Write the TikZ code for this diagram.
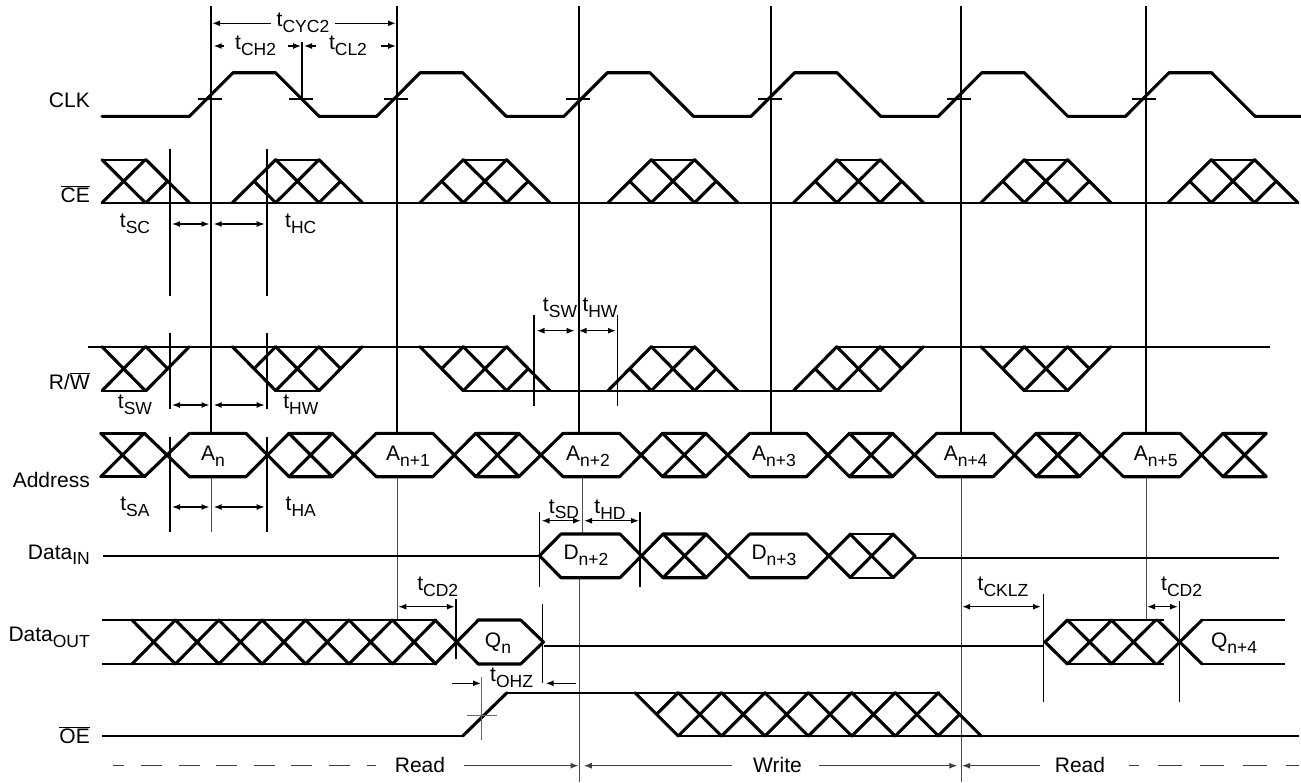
\documentclass[tikz,border=0pt]{standalone}
\usepackage{fontspec}
\setmainfont{Liberation Sans}
\usetikzlibrary{calc,arrows.meta}

\newcommand{\subt}[2]{#1\raisebox{-0.28em}{\fontsize{17.5}{17}\selectfont #2}}
\newcommand{\ovl}[1]{$\overline{\hbox{#1}}$}
\newcommand{\xcell}[3]{\draw[sig] (#1,#2) -- (#1+43.3,#3) (#1,#3) -- (#1+43.3,#2);}
\newcommand{\lramp}[3]{\draw[sig] (#1-43.3,#2) -- (#1,#3) (#1-21.65,{(#2+#3)/2}) -- (#1,#2);}
\newcommand{\rramp}[3]{\draw[sig] (#1,#2) -- (#1+43.3,#3) (#1,#3) -- (#1+21.65,{(#2+#3)/2});}

\tikzset{
    sig/.style={line width=3.1pt,line cap=round,line join=round},
    rail/.style={line width=2.1pt},
    guide/.style={line width=1.8pt},
    fine/.style={line width=1pt,black!70},
    faint/.style={line width=1pt,black!60},
    dim/.style={line width=1.4pt,{Latex[length=8pt,width=6pt]}-{Latex[length=8pt,width=6pt]}},
    dimr/.style={line width=1.4pt,-{Latex[length=8pt,width=6pt]}},
    diml/.style={line width=1.4pt,{Latex[length=8pt,width=6pt]}-},
    phase/.style={line width=1.2pt,black!75},
    lbl/.style={inner sep=0pt,font=\fontsize{21}{24}\selectfont},
    sigl/.style={lbl,anchor=base east}
}

\begin{document}
\begin{tikzpicture}[x=1pt,y=-1pt]
    \useasboundingbox (0,0) rectangle (1301,782);

    \foreach \x in {211,397,579,771,961,1146} {\draw[guide] (\x,6) -- (\x,433);};
    \draw[fine] (211.5,477) -- (211.5,532)
                (397.5,477) -- (397.5,620)
                (582,477) -- (582,534)
                (579,578) -- (579,782)
                (961,477) -- (961,782)
                (1146,477) -- (1146,620);

    \draw[guide] (170,149) -- (170,296) (267,149) -- (267,296)
                 (170,333) -- (170,409) (267,333) -- (267,409)
                 (170,437) -- (170,532) (267,437) -- (267,532)
                 (534,315) -- (534,406) (617.5,315) -- (617.5,406)
                 (539.5,512) -- (539.5,587) (640,512) -- (640,587)
                 (455.6,599) -- (455.6,659) (302,42) -- (302,99);
    \draw[line width=1.2pt] (542.7,604) -- (542.7,683)
                 (1043.7,594) -- (1043.7,702)
                 (1179.5,601) -- (1179.5,702);

    % CLK
    \draw[sig] (102,116.3) -- (189.5,116.3)
        \foreach \k in {0,...,5} {
            -- (233+187.2*\k,72.7) -- (275.5+187.2*\k,72.7) -- (319+187.2*\k,116.3)
            -- (376.7+187.2*\k,116.3)
        };
    \foreach \x in {198,289,384,566,758,947,1132} {\draw[guide] (\x,98.7) -- (\x+24,98.7);};

    % CE
    \draw[rail] (102,202.7) -- (1298,202.7);
    \xcell{102}{159.7}{202.7}
    \rramp{146}{159.7}{202.7}
    \draw[rail] (102,159.7) -- (146,159.7);
    \foreach \x in {232.4,420,608,793.5,981,1168} {
        \lramp{\x+43.3}{202.7}{159.7}
        \xcell{\x+43.3}{159.7}{202.7}
        \rramp{\x+86.6}{159.7}{202.7}
        \draw[rail] (\x+43.3,159.7) -- (\x+86.6,159.7);
    };

    % R/W
    \draw[rail] (88,346.7) -- (506.5,346.7) (651,346.7) -- (694.6,346.7) (837,346.7) -- (1270,346.7)
                (102,390.7) -- (146,390.7) (275.5,390.7) -- (319,390.7)
                (1024.6,390.7) -- (1068,390.7);
    \draw[line width=2.4pt] (463,390.7) -- (880.5,390.7);
    \xcell{102}{346.7}{390.7}
    \rramp{146}{390.7}{346.7}
    \foreach \x/\la/\lb/\ra/\rb in {232.4/346.7/390.7/390.7/346.7,
                                    420/346.7/390.7/346.7/390.7,
                                    608/390.7/346.7/346.7/390.7,
                                    793.5/390.7/346.7/390.7/346.7,
                                    981/346.7/390.7/390.7/346.7} {
        \lramp{\x+43.3}{\la}{\lb}
        \xcell{\x+43.3}{346.7}{390.7}
        \rramp{\x+86.6}{\ra}{\rb}
    };

    % Address
    \draw[sig] (100.8,433.3) -- (144.4,433.3) (100.8,476.7) -- (144.4,476.7);
    \xcell{100.8}{433.3}{476.7}
    \draw[sig] (144.4,433.3) -- (189.5,476.7) (144.4,476.7) -- (189.5,433.3);
    \foreach \k in {0,...,5} {
        \draw[sig] (168+186.8*\k+21.5,433.3) -- (168+186.8*\k+78,433.3)
                   (168+186.8*\k+21.5,476.7) -- (168+186.8*\k+78,476.7)
                   (168+186.8*\k+78,433.3) -- (168+186.8*\k+121,476.7)
                   (168+186.8*\k+78,476.7) -- (168+186.8*\k+121,433.3)
                   (168+186.8*\k+121,433.3) -- (168+186.8*\k+164,433.3)
                   (168+186.8*\k+121,476.7) -- (168+186.8*\k+164,476.7);
        \xcell{168+186.8*\k+121}{433.3}{476.7}
    };
    \foreach \k in {0,...,4} {
        \draw[sig] (168+186.8*\k+164,433.3) -- (168+186.8*\k+208.3,476.7)
                   (168+186.8*\k+164,476.7) -- (168+186.8*\k+208.3,433.3);
    };

    % Data in
    \draw[rail,line width=2.2pt] (103,555.7) -- (539.5,555.7) (915,557.7) -- (1279,557.7);
    \draw[sig] (561,534) -- (539.5,555.7) -- (561,577.7)
               (561,534) -- (620,534) (561,577.7) -- (620,577.7)
               (620,534) -- (663,577.7) (620,577.7) -- (663,534)
               (663,534) -- (706,534) (663,577.7) -- (706,577.7)
               (706,534) -- (749.7,577.7) (706,577.7) -- (749.7,534)
               (749.7,534) -- (807,534) (749.7,577.7) -- (807,577.7)
               (807,534) -- (850.6,577.7) (807,577.7) -- (850.6,534)
               (893,534) -- (915,556) -- (893,577.7);
    \xcell{663}{534}{577.7}
    \xcell{850}{534}{577.7}
    \draw[rail] (850,534) -- (893,534) (850,577.7) -- (893,577.7);

    % Data out
    \draw[rail,line width=2.4pt] (102,620) -- (434.8,620) (102,664) -- (434.8,664);
    \foreach \x in {132,175.4,218.8,262.2,305.6,349,392.4,435} {
        \draw[sig] (\x,620) -- (\x+43.4,664) (\x,664) -- (\x+43.4,620);
    };
    \draw[sig] (478,620) -- (520.7,620) (478,664) -- (520.7,664)
               (520.7,620) -- (543.5,642) -- (520.7,664);
    \draw[rail,line width=2.2pt] (543.5,646) -- (1043.7,646);
    \draw[sig] (1045,642) -- (1067.4,620) (1045,642) -- (1067.4,664);
    \draw[rail,line width=2.4pt] (1067.4,620) -- (1164,620) (1067.4,664) -- (1164,664)
               (1202.3,620) -- (1285.4,620) (1202.3,664) -- (1285.4,664);
    \foreach \x in {1067.4,1111.3,1157.5} {
        \draw[sig] (\x,620) -- (\x+44.5,664) (\x,664) -- (\x+44.5,620);
    };

    % OE
    \draw[rail,line width=2.4pt] (102,736) -- (462.7,736) (507,692.7) -- (937.8,692.7)
                                 (678.2,736) -- (1299,736);
    \draw[sig] (462.7,736) -- (507,692.7);
    \lramp{678.2}{692.7}{736}
    \foreach \x in {678.2,721.6,765,808.4,851.8,895.2} {\xcell{\x}{692.7}{736}};
    \rramp{938}{692.7}{736}
    \draw[faint] (481.3,677) -- (481.3,740) (466.8,715) -- (496.7,715);

    % dimensions
    \draw[diml] (212,23.3) -- (271,23.3);
    \draw[dimr] (335,23.3) -- (396,23.3);
    \draw[diml] (213.7,46) -- (224,46);
    \draw[dimr] (288,46) -- (301,46);
    \draw[diml] (304,46) -- (316,46);
    \draw[dimr] (380.5,46) -- (396,46);
    \draw[dim] (172,224) -- (209.5,224);
    \draw[dim] (213.7,224) -- (264.7,224);
    \draw[dim] (172,405) -- (209.5,405);
    \draw[dim] (213.7,405) -- (264.7,405);
    \draw[dim] (172,507) -- (209.5,507);
    \draw[dim] (213.7,507) -- (264.7,507);
    \draw[dim] (536.5,330.7) -- (574.7,330.7);
    \draw[dim] (578.5,330.7) -- (616,330.7);
    \draw[dim] (541.5,520.7) -- (581,520.7);
    \draw[dim] (584,520.7) -- (639,520.7);
    \draw[dim] (398.3,606.7) -- (454.8,606.7);
    \draw[dim] (962,606.7) -- (1041,606.7);
    \draw[dim] (1147,606.7) -- (1178,606.7);
    \draw[dimr] (452,683.3) -- (481,683.3);
    \draw[diml] (545.6,683.3) -- (576,683.3);

    % phases
    \draw[phase,dash pattern=on 21pt off 16.6pt,dash phase=10pt] (113.3,765.7) -- (375.5,765.7);
    \draw[phase,-{Latex[length=8pt,width=6pt]}] (463.5,765.7) -- (578.5,765.7);
    \draw[phase,{Latex[length=8pt,width=6pt]}-] (583.8,765.7) -- (731.8,765.7);
    \draw[phase,-{Latex[length=8pt,width=6pt]}] (819,765.7) -- (957.3,765.7);
    \draw[phase,{Latex[length=8pt,width=6pt]}-] (962,765.7) -- (1040.4,765.7);
    \draw[phase,dash pattern=on 24pt off 18.7pt,dash phase=14pt] (1128.8,765.7) -- (1299,765.7);

    % signal names
    \node[sigl] (lblclk) at (90,107.3) {CLK};
    \node[sigl] (lblce) at (90,202.7) {\ovl{CE}};
    \node[sigl] (lblrw) at (90,389.3) {R/\ovl{W}};
    \node[sigl] (lbladdr) at (90,487.7) {Address};
    \node[sigl] (lblin) at (90,559) {\subt{Data}{IN}};
    \node[sigl] (lblout) at (90,641.7) {\subt{Data}{OUT}};
    \node[sigl] (lbloe) at (90,743.3) {\ovl{OE}};

    % bus values
    \node[lbl] (an0) at (213,456) {\subt{A}{n}};
    \node[lbl] (an1) at (408,456) {\subt{A}{n+1}};
    \node[lbl] (an2) at (588,456) {\subt{A}{n+2}};
    \node[lbl] (an3) at (774,456) {\subt{A}{n+3}};
    \node[lbl] (an4) at (965.6,456) {\subt{A}{n+4}};
    \node[lbl] (an5) at (1155.8,456) {\subt{A}{n+5}};
    \node[lbl] (dn2) at (586,555) {\subt{D}{n+2}};
    \node[lbl] (dn3) at (774,555) {\subt{D}{n+3}};
    \node[lbl] (qn0) at (498,643) {\subt{Q}{n}};
    \node[lbl] (qn4) at (1234,643) {\subt{Q}{n+4}};

    % timing names
    \node[lbl] (tcyc) at (303,23) {\subt{t}{CYC2}};
    \node[lbl] (tch) at (255.6,46) {\subt{t}{CH2}};
    \node[lbl] (tcl) at (348,46) {\subt{t}{CL2}};
    \node[lbl] (tsc) at (135,224) {\subt{t}{SC}};
    \node[lbl] (thc) at (300.8,224) {\subt{t}{HC}};
    \node[lbl] (tsw1) at (560,308) {\subt{t}{SW}};
    \node[lbl] (thw1) at (600,308) {\subt{t}{HW}};
    \node[lbl] (tsw2) at (135,405) {\subt{t}{SW}};
    \node[lbl] (thw2) at (300.8,405) {\subt{t}{HW}};
    \node[lbl] (tsa) at (135,507) {\subt{t}{SA}};
    \node[lbl] (tha) at (300.8,507) {\subt{t}{HA}};
    \node[lbl] (tsd) at (564,509.3) {\subt{t}{SD}};
    \node[lbl] (thd) at (610,509.3) {\subt{t}{HD}};
    \node[lbl] (tcd1) at (437.8,586.7) {\subt{t}{CD2}};
    \node[lbl] (tcklz) at (1003,586.7) {\subt{t}{CKLZ}};
    \node[lbl] (tcd2) at (1181.6,586.7) {\subt{t}{CD2}};
    \node[lbl] (tohz) at (511.6,677.7) {\subt{t}{OHZ}};

    \node[lbl] (read1) at (420,765) {Read};
    \node[lbl] (write) at (777.5,765) {Write};
    \node[lbl] (read2) at (1080,765) {Read};
\end{tikzpicture}
\end{document}
